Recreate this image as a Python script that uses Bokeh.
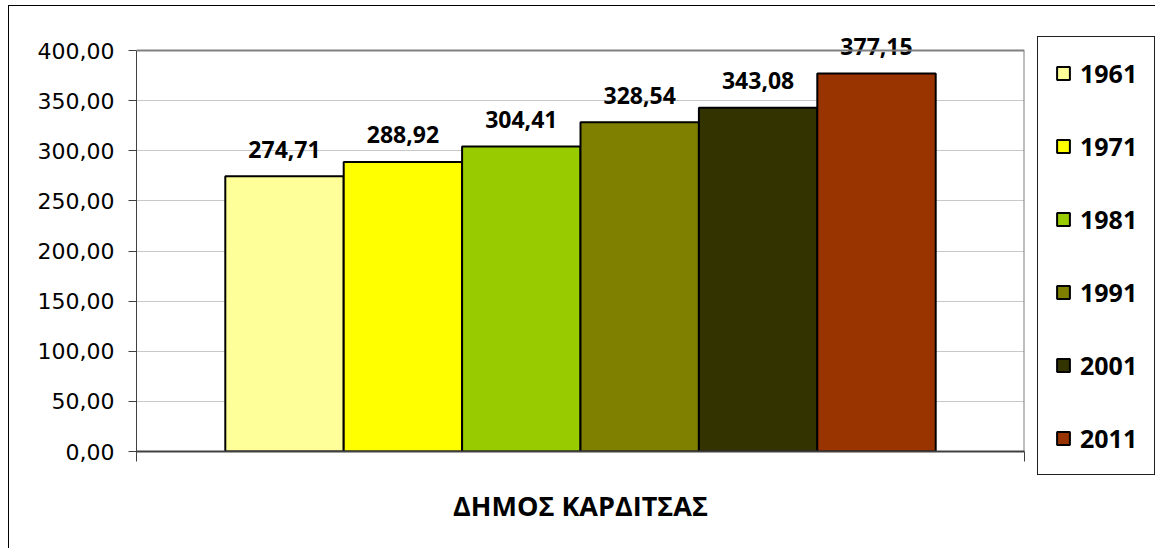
from bokeh.plotting import figure
from bokeh.models import (Range1d, FixedTicker, CustomJSTickFormatter, Legend, LegendItem,
                          ColumnDataSource, Span)
from bokeh.core.properties import value
from bokeh.embed import file_html
from bokeh.resources import INLINE

category = "ΔΗΜΟΣ ΚΑΡΔΙΤΣΑΣ"
years = ["1961", "1971", "1981", "1991", "2001", "2011"]
values = [274.71, 288.92, 304.41, 328.54, 343.08, 377.15]
colors = ["#FFFF99", "#FFFF00", "#99CC00", "#808000", "#333300", "#993300"]
y_ticks = [0, 50, 100, 150, 200, 250, 300, 350, 400]

n = len(years)
group_start, group_width = 0.1, 0.8
bw = group_width / n
xs = [group_start + bw * (i + 0.5) for i in range(n)]
labels = [f"{v:.2f}".replace(".", ",") for v in values]
y_max = y_ticks[-1]

src = ColumnDataSource(dict(x=xs, top=values, color=colors, year=years, label=labels))

# frame extends a little above the 400 line so the top label is not clipped
p = figure(frame_width=888, frame_height=441, output_backend="svg", toolbar_location=None,
           x_range=Range1d(0, 1), y_range=Range1d(0, 440),
           min_border_left=127, min_border_right=131, min_border_top=4, min_border_bottom=97)
p.styles = {"margin-left": "8px", "margin-top": "5px",
            "border-left": "1px solid #000000", "border-top": "1px solid #000000"}

p.background_fill_color = "white"
p.border_fill_color = "white"
p.outline_line_color = None

p.xgrid.grid_line_color = None
p.ygrid.ticker = FixedTicker(ticks=y_ticks)
p.ygrid.grid_line_color = "#c8c8c8"

# plot-area border (top and right), in gray
p.add_layout(Span(location=y_max, dimension="width", line_color="#808080", line_width=2))
p.segment(x0=[1], y0=[0], x1=[1], y1=[y_max], line_color="#808080", line_width=2)

bars = p.vbar(x="x", top="top", bottom=0, width=bw, source=src, fill_color="color",
              line_color="black", line_width=2)

p.text(x="x", y="top", text="label", source=src, text_font=value("Open Sans"),
       text_font_style="bold", text_font_size="23px", text_align="center",
       text_baseline="alphabetic", y_offset=-27, text_color="black")

# y axis
p.yaxis.ticker = FixedTicker(ticks=y_ticks)
p.yaxis.bounds = (0, y_max)
p.yaxis.formatter = CustomJSTickFormatter(code="return tick.toFixed(2).replace('.', ',');")
p.yaxis.major_label_text_font = "DejaVu Sans"
p.yaxis.major_label_text_font_size = "22px"
p.yaxis.major_label_text_color = "black"
p.yaxis.major_label_standoff = 14
p.yaxis.major_tick_out = 8
p.yaxis.major_tick_in = 0
p.yaxis.minor_tick_line_color = None
p.yaxis.axis_line_color = "#404040"
p.yaxis.major_tick_line_color = "#404040"

# x axis
p.xaxis.ticker = FixedTicker(ticks=[0, 1])
p.xaxis.formatter = CustomJSTickFormatter(code="return '';")
p.xaxis.major_tick_out = 10
p.xaxis.major_tick_in = 0
p.xaxis.minor_tick_line_color = None
p.xaxis.axis_line_color = "#404040"
p.xaxis.axis_line_width = 2
p.xaxis.major_tick_line_color = "#404040"
p.xaxis.major_label_standoff = 0
p.xaxis.axis_label = category
p.xaxis.axis_label_text_font = "Open Sans"
p.xaxis.axis_label_text_font_style = "bold"
p.xaxis.axis_label_text_font_size = "27px"
p.xaxis.axis_label_text_color = "black"
p.xaxis.axis_label_standoff = 25

items = [LegendItem(label=years[i], renderers=[bars], index=i) for i in range(n)]
legend = Legend(items=items, location=(13, -24), orientation="vertical")
legend.label_text_font = "Open Sans"
legend.label_text_font_style = "bold"
legend.label_text_font_size = "25px"
legend.label_text_color = "black"
legend.glyph_width = 16
legend.glyph_height = 16
legend.label_height = 38
legend.label_standoff = 9
legend.spacing = 35
legend.padding = 17
legend.margin = 0
legend.border_line_color = "#202020"
legend.border_line_alpha = 1
legend.border_line_width = 1.5
legend.background_fill_color = "white"
legend.background_fill_alpha = 1
p.add_layout(legend, "right")

open("out.html", "w").write(file_html(p, INLINE))
